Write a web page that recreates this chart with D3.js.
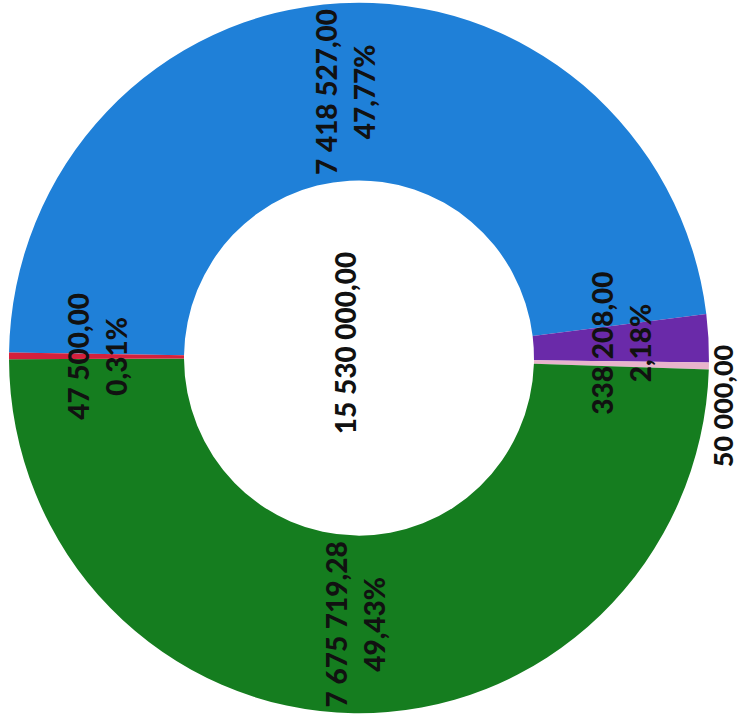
<!DOCTYPE html>
<html>
<head>
<meta charset="utf-8">
<script src="https://cdn.jsdelivr.net/npm/d3@7"></script>
<style>
  html, body { margin: 0; padding: 0; background: #ffffff; }
  svg { display: block; }
  text { font-family: Lato, "Open Sans", sans-serif; font-weight: 900; fill: #111; }
</style>
</head>
<body>
<svg id="chart" width="738" height="724"></svg>
<script>
// ---- data ----
const categories = ["Segment 1", "Segment 2", "Segment 3", "Segment 4", "Segment 5"];
const values = [7418527.00, 338208.00, 50000.00, 7675719.28, 47500.00];
const colors = ["#1f80d8", "#6a2aa9", "#e8b4cc", "#157d1f", "#d4203c"];
const showPercent = [true, true, false, true, true];
const outsideLabel = [false, false, true, false, false];
const totalValue = 15530000.00;

// ---- layout ----
const W = 738, H = 724;
const cx = 359, cy = 358;
const outerR = 350, innerR = 175;
const yStretch = 1.015;
const startDeg = -90 + 0.9;

const locale = d3.formatLocale({ decimal: ",", thousands: " ", grouping: [3], currency: ["", ""] });
const fmtNum = locale.format(",.2f");
const fmtPct = locale.format(".2%");

const svg = d3.select("#chart");
const g = svg.append("g").attr("transform", `translate(${cx},${cy})`);
const ring = g.append("g").attr("transform", `scale(1,${yStretch})`);

const sum = d3.sum(values);
const start = startDeg * Math.PI / 180;
const pie = d3.pie().sort(null).value(d => d.value)
  .startAngle(start).endAngle(start + 2 * Math.PI);
const data = categories.map((c, i) => ({ cat: c, value: values[i], color: colors[i], pct: showPercent[i], outside: outsideLabel[i] }));
const arcs = pie(data);

const arc = d3.arc().innerRadius(innerR).outerRadius(outerR);

ring.selectAll("path.slice").data(arcs).enter().append("path")
  .attr("class", "slice")
  .attr("d", arc)
  .attr("fill", d => d.data.color);

const fontSize = 28;
const lineGap = 38;

const labels = g.selectAll("g.lbl").data(arcs).enter().append("g")
  .attr("class", "lbl")
  .attr("transform", d => {
    let [x, y] = arc.centroid(d);
    y = y * yStretch;
    if (d.data.outside) {
      x = outerR + 13;
      y = y + 42;
    }
    return `translate(${x},${y}) rotate(-90)`;
  });

labels.each(function(d) {
  const sel = d3.select(this);
  const lines = [fmtNum(d.data.value)];
  if (d.data.pct) lines.push(fmtPct(d.data.value / sum));
  const off = -(lines.length - 1) * lineGap / 2;
  lines.forEach((t, i) => {
    sel.append("text")
      .attr("text-anchor", "middle")
      .attr("dominant-baseline", "central")
      .attr("y", off + i * lineGap)
      .style("font-size", (d.data.outside ? fontSize - 1 : fontSize) + "px")
      .text(t);
  });
});

// total in the centre
g.append("text")
  .attr("transform", `translate(-14,-15) rotate(-90)`)
  .attr("text-anchor", "middle")
  .attr("dominant-baseline", "central")
  .style("font-size", fontSize + "px")
  .text(fmtNum(totalValue));
</script>
</body>
</html>
